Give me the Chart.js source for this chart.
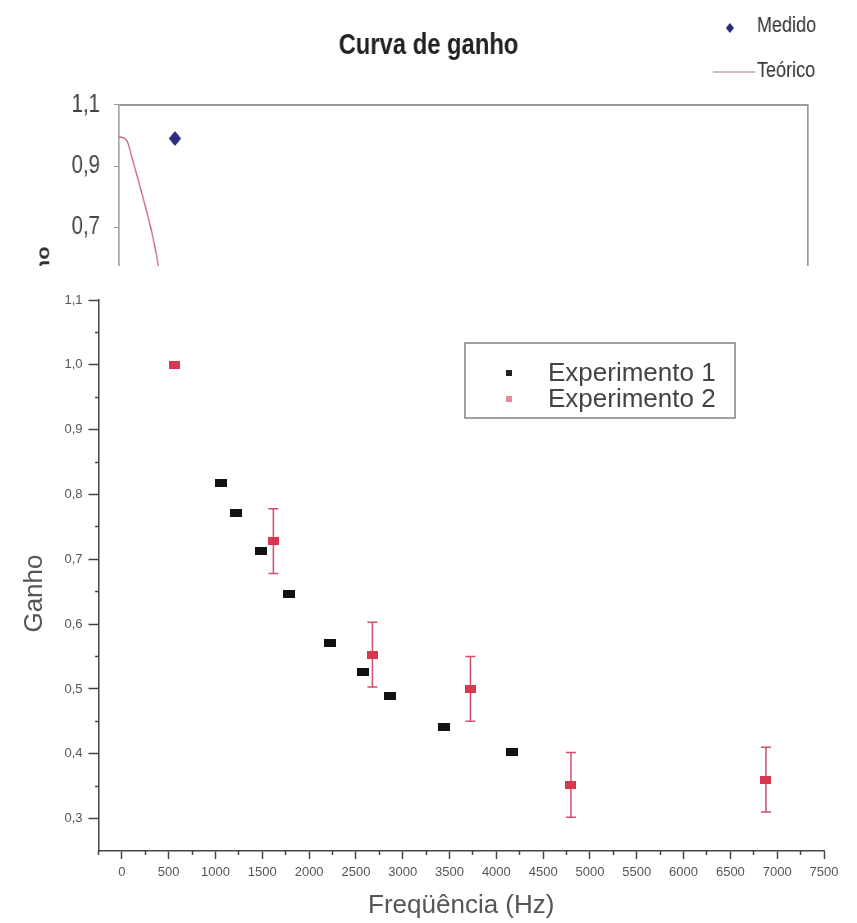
<!DOCTYPE html>
<html>
<head>
<meta charset="utf-8">
<script src="https://cdn.jsdelivr.net/npm/chart.js@4.4.1/dist/chart.umd.min.js"></script>
<style>
  html, body { margin: 0; padding: 0; background: #fff; }
  #wrap { position: relative; width: 857px; height: 923px; overflow: hidden; background: #fff; }
  #topBox { position: absolute; left: 0; top: 0; width: 857px; height: 266px; overflow: hidden; }
  /* the upper panel uses a condensed look: drawn wide, then squeezed horizontally */
  #curva { transform: scaleX(0.8201); transform-origin: 0 0; }
  #bottomBox { position: absolute; left: 0; top: 266px; width: 857px; height: 657px; background: #fff; }
  canvas { display: block; }
</style>
</head>
<body>
<div id="wrap">
  <div id="topBox"><canvas id="curva" width="1045" height="520"></canvas></div>
  <div id="bottomBox"><canvas id="ganho" width="857" height="657"></canvas></div>
</div>
<script>
// ---- Curva de ganho: medido x teórico ----
const medidoFreq = [569];
const medidoGain = [0.99];
const teoricoFreq = [0, 81, 132, 244, 346, 396, 410];
const teoricoGain = [0.996, 0.983, 0.928, 0.798, 0.667, 0.583, 0.555];
const curvaGainTicks = [1.1, 0.9, 0.7, 0.5, 0.3, 0.1];

// ---- Ganho x frequência, dois experimentos ----
const freqExp1 = [1060, 1218, 1488, 1784, 2222, 2575, 2863, 3440, 4170];
const gainExp1 = [0.817, 0.772, 0.713, 0.646, 0.571, 0.526, 0.489, 0.441, 0.403];
const freqExp2 = [560, 1618, 2676, 3723, 4797, 6880];
const gainExp2 = [1.0, 0.728, 0.553, 0.50, 0.352, 0.360];
const errExp2 = [0, 0.05, 0.05, 0.05, 0.05, 0.05];

const gainTicks = [0.3, 0.4, 0.5, 0.6, 0.7, 0.8, 0.9, 1.0, 1.1];
const gainMinorTicks = [0.35, 0.45, 0.55, 0.65, 0.75, 0.85, 0.95, 1.05];
const freqTicks = [0, 500, 1000, 1500, 2000, 2500, 3000, 3500, 4000, 4500, 5000, 5500, 6000, 6500, 7000, 7500];
const freqMinorTicks = [-250, 250, 750, 1250, 1750, 2250, 2750, 3250, 3750, 4250, 4750, 5250, 5750, 6250, 6750, 7250];

const SANS = '"Liberation Sans", Arial, Helvetica, sans-serif';

const decimalComma = v => Number(v).toFixed(1).replace('.', ',');
const plainNumber = v => String(v);
const asTicks = arr => arr.map(v => ({ value: v }));

// small filled rectangle used as a point marker
function boxMarker(w, h, color) {
  const c = document.createElement('canvas');
  c.width = w; c.height = h;
  const g = c.getContext('2d');
  g.fillStyle = color;
  g.fillRect(0, 0, w, h);
  return c;
}

// vertical error bars with caps, positioned through the dataset's scales
const errorBars = {
  id: 'errorBars',
  beforeDatasetsDraw(chart) {
    const { ctx } = chart;
    chart.data.datasets.forEach((ds, i) => {
      if (!ds.errors) return;
      const meta = chart.getDatasetMeta(i);
      const xs = chart.scales[meta.xAxisID];
      const ys = chart.scales[meta.yAxisID];
      ctx.save();
      ctx.strokeStyle = ds.errorColor;
      ctx.lineWidth = 1.5;
      ds.data.forEach((p, j) => {
        const e = ds.errors[j];
        if (!e) return;
        const x = xs.getPixelForValue(p.x);
        const yTop = ys.getPixelForValue(p.y + e);
        const yBot = ys.getPixelForValue(p.y - e);
        ctx.beginPath();
        ctx.moveTo(x, yTop); ctx.lineTo(x, yBot);
        ctx.moveTo(x - 5, yTop); ctx.lineTo(x + 5, yTop);
        ctx.moveTo(x - 5, yBot); ctx.lineTo(x + 5, yBot);
        ctx.stroke();
      });
      ctx.restore();
    });
  }
};

// framed legend inside the plot
const boxLegend = {
  id: 'boxLegend',
  afterDraw(chart, args, o) {
    const { ctx } = chart;
    ctx.save();
    ctx.strokeStyle = '#808080';
    ctx.lineWidth = 1.5;
    ctx.strokeRect(o.left, o.top, o.width, o.height);
    ctx.font = o.font;
    ctx.textBaseline = 'middle';
    ctx.textAlign = 'left';
    chart.data.datasets.forEach((ds, i) => {
      const y = o.firstRow + i * o.rowGap;
      ctx.fillStyle = ds.legendColor;
      ctx.fillRect(o.markerX - 3, y - 4, 6, 6);
      ctx.fillStyle = '#444';
      ctx.fillText(ds.label, o.textX, y);
    });
    ctx.restore();
  }
};

// legend above the frame, one entry per row
const cornerLegend = {
  id: 'cornerLegend',
  afterDraw(chart, args, o) {
    const { ctx } = chart;
    ctx.save();
    ctx.font = o.font;
    ctx.textBaseline = 'middle';
    ctx.textAlign = 'left';
    chart.data.datasets.forEach((ds, i) => {
      const y = o.rows[i];
      if (ds.showLine) {
        ctx.strokeStyle = o.lineColor;
        ctx.lineWidth = 1.5;
        ctx.beginPath();
        ctx.moveTo(o.lineStart, y + 1);
        ctx.lineTo(o.lineEnd, y + 1);
        ctx.stroke();
      } else {
        ctx.fillStyle = ds.backgroundColor;
        ctx.beginPath();
        ctx.moveTo(o.markerX, y - 3);
        ctx.lineTo(o.markerX + 5, y + 2);
        ctx.lineTo(o.markerX, y + 7);
        ctx.lineTo(o.markerX - 5, y + 2);
        ctx.closePath();
        ctx.fill();
      }
      ctx.fillStyle = '#333';
      ctx.fillText(ds.label, o.textX, y);
    });
    ctx.restore();
  }
};

// ---------- top panel (canvas units are 1/0.8201 of page pixels horizontally) ----------
const frame = { color: '#9a9a9a', width: 2 };
const curvaMin = -0.05;
new Chart(document.getElementById('curva'), {
  type: 'scatter',
  data: {
    datasets: [
      {
        label: 'Medido',
        data: medidoFreq.map((f, i) => ({ x: f, y: medidoGain[i] })),
        pointStyle: 'rectRot',
        pointRadius: 7,
        backgroundColor: '#2a2b7c',
        borderColor: '#2a2b7c',
        xAxisID: 'x', yAxisID: 'y'
      },
      {
        label: 'Teórico',
        data: teoricoFreq.map((f, i) => ({ x: f, y: teoricoGain[i] })),
        showLine: true,
        pointRadius: 0,
        borderColor: '#c4628e',
        borderWidth: 1.6,
        cubicInterpolationMode: 'monotone',
        xAxisID: 'x', yAxisID: 'y'
      }
    ]
  },
  options: {
    responsive: false,
    animation: false,
    layout: { padding: 0 },
    plugins: {
      legend: { display: false },
      tooltip: { enabled: false },
      title: {
        display: true,
        text: 'Curva de ganho',
        color: '#222',
        font: { family: SANS, size: 29, weight: 'bold' },
        padding: { top: 29, bottom: 41 }
      },
      cornerLegend: {
        font: '22px ' + SANS,
        rows: [26, 71],
        markerX: 890,
        textX: 923,
        lineStart: 869,
        lineEnd: 921,
        lineColor: '#cfa0b8'
      }
    },
    scales: {
      x: {
        type: 'linear', position: 'bottom', min: 0, max: 7000,
        afterFit: s => { s.height = 520 - 457.6; },
        grid: { display: false },
        ticks: { display: false },
        border: frame
      },
      xTop: {
        type: 'linear', axis: 'x', position: 'top', min: 0, max: 7000,
        afterFit: s => { s.height = 0; },
        grid: { display: false },
        ticks: { display: false },
        border: frame
      },
      y: {
        type: 'linear', position: 'left', min: curvaMin, max: 1.1,
        afterBuildTicks: s => { s.ticks = asTicks(curvaGainTicks); },
        afterFit: s => { s.width = 145; },
        grid: { drawOnChartArea: false, tickLength: 6, tickColor: '#999' },
        border: { color: '#a0a0a0', width: 1.8 },
        ticks: { color: '#444', padding: 17, font: { family: SANS, size: 25 }, callback: decimalComma },
        title: {
          display: true, text: 'Ganho', color: '#333',
          font: { family: SANS, size: 22, weight: 'bold' },
          padding: { top: 41, bottom: 0 }
        }
      },
      yRight: {
        type: 'linear', axis: 'y', position: 'right', min: curvaMin, max: 1.1,
        afterFit: s => { s.width = 60; },
        grid: { display: false },
        ticks: { display: false },
        border: frame
      }
    }
  },
  plugins: [cornerLegend]
});

// ---------- bottom panel ----------
const axisInk = '#444';
new Chart(document.getElementById('ganho'), {
  type: 'scatter',
  data: {
    datasets: [
      {
        label: 'Experimento 1',
        data: freqExp1.map((f, i) => ({ x: f, y: gainExp1[i] })),
        pointStyle: boxMarker(12, 8, '#111'),
        pointRadius: 6,
        legendColor: '#222',
        xAxisID: 'x', yAxisID: 'y'
      },
      {
        label: 'Experimento 2',
        data: freqExp2.map((f, i) => ({ x: f, y: gainExp2[i] })),
        errors: errExp2,
        errorColor: '#cf5068',
        pointStyle: boxMarker(11, 8, '#d9364f'),
        pointRadius: 6,
        legendColor: '#e68a9b',
        xAxisID: 'x', yAxisID: 'y'
      }
    ]
  },
  options: {
    responsive: false,
    animation: false,
    layout: { padding: { left: 0, right: 33, top: 34, bottom: 0 } },
    plugins: {
      legend: { display: false },
      tooltip: { enabled: false },
      boxLegend: {
        left: 465, top: 77, width: 270, height: 75,
        markerX: 509, textX: 548, firstRow: 108, rowGap: 26,
        font: '26px ' + SANS
      }
    },
    scales: {
      x: {
        type: 'linear', position: 'bottom', min: -250, max: 7500,
        afterBuildTicks: s => { s.ticks = asTicks(freqTicks); },
        afterFit: s => { s.height = 72; },
        grid: { drawOnChartArea: false, tickLength: 8, tickColor: axisInk, tickWidth: 1.5 },
        border: { color: axisInk, width: 1.5 },
        ticks: { color: '#555', padding: 6, maxRotation: 0, autoSkip: false, font: { family: SANS, size: 13 }, callback: plainNumber },
        title: {
          display: true, text: 'Freqüência (Hz)', color: '#555',
          font: { family: SANS, size: 26 },
          padding: { top: 0, bottom: 2 }
        }
      },
      xMinor: {
        type: 'linear', axis: 'x', position: { y: 0.25 }, min: -250, max: 7500,
        afterBuildTicks: s => { s.ticks = asTicks(freqMinorTicks); },
        grid: { drawOnChartArea: false, tickLength: 4, tickColor: axisInk, tickWidth: 1.5 },
        border: { display: false },
        ticks: { display: false }
      },
      y: {
        type: 'linear', position: 'left', min: 0.25, max: 1.1,
        afterBuildTicks: s => { s.ticks = asTicks(gainTicks); },
        afterFit: s => { s.width = 98.5; },
        grid: { drawOnChartArea: false, tickLength: 10, tickColor: axisInk, tickWidth: 1.5 },
        border: { color: axisInk, width: 1.5 },
        ticks: { color: '#555', padding: 6, font: { family: SANS, size: 13 }, callback: decimalComma },
        title: {
          display: true,
          // trailing no-break spaces push the word a little below the axis middle
          text: 'Ganho\u00a0\u00a0\u00a0\u00a0\u00a0',
          color: '#555',
          font: { family: SANS, size: 26 },
          padding: { top: 19, bottom: 0 }
        }
      },
      yMinor: {
        type: 'linear', axis: 'y', position: { x: -250 }, min: 0.25, max: 1.1,
        afterBuildTicks: s => { s.ticks = asTicks(gainMinorTicks); },
        grid: { drawOnChartArea: false, tickLength: 4, tickColor: axisInk, tickWidth: 1.5 },
        border: { display: false },
        ticks: { display: false }
      }
    }
  },
  plugins: [errorBars, boxLegend]
});
</script>
</body>
</html>
